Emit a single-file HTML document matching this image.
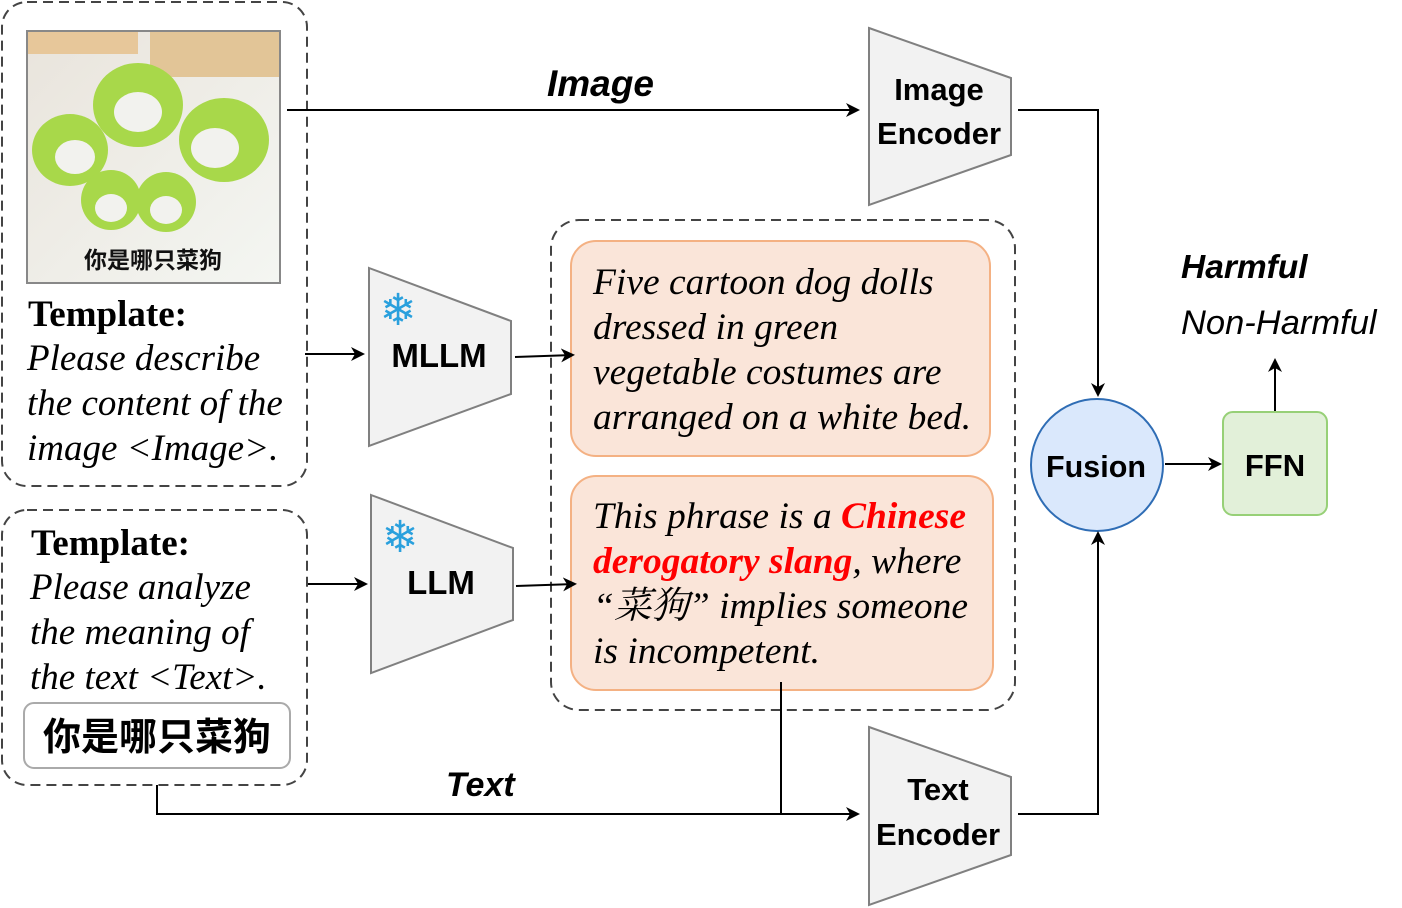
<!DOCTYPE html>
<html><head><meta charset="utf-8"><style>
html,body{margin:0;padding:0;background:#fff;width:1402px;height:908px;overflow:hidden}
svg{display:block}
.sans{font-family:"Liberation Sans","Noto Sans CJK SC",sans-serif}
.serif{font-family:"Liberation Serif","Noto Serif CJK SC",serif}
</style></head><body>
<svg width="1402" height="908" viewBox="0 0 1402 908" xmlns="http://www.w3.org/2000/svg">
<defs>
<marker id="ar" markerWidth="14" markerHeight="14" refX="12" refY="7" orient="auto" markerUnits="userSpaceOnUse"><path d="M0,0 L14,7 L0,14 L4,7 Z" fill="#000"/></marker>
<linearGradient id="bg" x1="0" y1="0" x2="1" y2="1"><stop offset="0" stop-color="#e9e4dc"/><stop offset="1" stop-color="#f4f6f2"/></linearGradient>
</defs>

<rect x="2" y="2" width="305" height="484" rx="25" fill="none" stroke="#444" stroke-width="2" stroke-dasharray="10,6"/>
<g>
<rect x="27" y="31" width="253" height="252" fill="url(#bg)" stroke="#888" stroke-width="2"/>
<rect x="28" y="32" width="110" height="22" fill="#e7c79a"/>
<rect x="150" y="32" width="129" height="45" fill="#e2c597"/>
<ellipse cx="138" cy="105" rx="45" ry="42" fill="#a8d84a"/><ellipse cx="138" cy="112" rx="24" ry="20" fill="#f2f2ee"/>
<ellipse cx="224" cy="140" rx="45" ry="42" fill="#a8d84a"/><ellipse cx="215" cy="148" rx="24" ry="20" fill="#f2f2ee"/>
<ellipse cx="70" cy="150" rx="38" ry="36" fill="#a8d84a"/><ellipse cx="75" cy="157" rx="20" ry="17" fill="#f2f2ee"/>
<ellipse cx="111" cy="200" rx="30" ry="30" fill="#a8d84a"/><ellipse cx="111" cy="208" rx="16" ry="14" fill="#f2f2ee"/>
<ellipse cx="166" cy="202" rx="30" ry="30" fill="#a8d84a"/><ellipse cx="166" cy="210" rx="16" ry="14" fill="#f2f2ee"/>
<text x="153" y="268" text-anchor="middle" class="sans" font-size="23" font-weight="bold" fill="#111">你是哪只菜狗</text>
</g>
<g class="serif" font-size="37" fill="#000">
<text x="28" y="326" font-weight="bold">Template:</text>
<text x="27" y="370" font-style="italic">Please describe</text>
<text x="27" y="415" font-style="italic">the content of the</text>
<text x="27" y="460" font-style="italic">image &lt;Image&gt;.</text>
</g>

<rect x="2" y="510" width="305" height="275" rx="25" fill="none" stroke="#444" stroke-width="2" stroke-dasharray="10,6"/>
<g class="serif" font-size="37" fill="#000">
<text x="31" y="555" font-weight="bold">Template:</text>
<text x="30" y="599" font-style="italic">Please analyze</text>
<text x="30" y="644" font-style="italic">the meaning of</text>
<text x="30" y="689" font-style="italic">the text &lt;Text&gt;.</text>
</g>
<rect x="24" y="703" width="266" height="65" rx="10" fill="#fff" stroke="#aaa" stroke-width="2"/>
<text x="157" y="750" text-anchor="middle" class="sans" font-size="38" font-weight="bold">你是哪只菜狗</text>

<g>
<polygon points="369,268 511,321 511,394 369,446" fill="#f2f2f2" stroke="#808080" stroke-width="2"/>
<text x="398" y="325" text-anchor="middle" font-size="44" fill="#2aa0dd">❄</text>
<text x="439" y="367" text-anchor="middle" class="sans" font-size="33" font-weight="bold">MLLM</text>
</g>
<g>
<polygon points="371,495 513,548 513,620 371,673" fill="#f2f2f2" stroke="#808080" stroke-width="2"/>
<text x="400" y="552" text-anchor="middle" font-size="44" fill="#2aa0dd">❄</text>
<text x="441" y="594" text-anchor="middle" class="sans" font-size="33" font-weight="bold">LLM</text>
</g>

<g>
<polygon points="869,28 1011,78 1011,155 869,205" fill="#f2f2f2" stroke="#808080" stroke-width="2"/>
<text x="939" y="100" text-anchor="middle" class="sans" font-size="31" font-weight="bold">Image</text>
<text x="939" y="144" text-anchor="middle" class="sans" font-size="31" font-weight="bold">Encoder</text>
</g>
<g>
<polygon points="869,727 1011,777 1011,855 869,905" fill="#f2f2f2" stroke="#808080" stroke-width="2"/>
<text x="938" y="800" text-anchor="middle" class="sans" font-size="31" font-weight="bold">Text</text>
<text x="938" y="845" text-anchor="middle" class="sans" font-size="31" font-weight="bold">Encoder</text>
</g>

<rect x="551" y="220" width="464" height="490" rx="28" fill="none" stroke="#444" stroke-width="2" stroke-dasharray="10,6"/>
<rect x="571" y="241" width="419" height="215" rx="25" fill="#fae5d9" stroke="#f4b183" stroke-width="2"/>
<g class="serif" font-size="37.5" font-style="italic">
<text x="593" y="294">Five cartoon dog dolls</text>
<text x="593" y="339">dressed in green</text>
<text x="593" y="384">vegetable costumes are</text>
<text x="593" y="429">arranged on a white bed.</text>
</g>
<rect x="571" y="476" width="422" height="214" rx="25" fill="#fae5d9" stroke="#f4b183" stroke-width="2"/>
<g class="serif" font-size="37.5" font-style="italic">
<text x="593" y="528">This phrase is a <tspan fill="#f00" font-weight="bold">Chinese</tspan></text>
<text x="593" y="573"><tspan fill="#f00" font-weight="bold">derogatory slang</tspan>, where</text>
<text x="593" y="618">“菜狗” implies someone</text>
<text x="593" y="663">is incompetent.</text>
</g>

<g>
<circle cx="1097" cy="465" r="66" fill="#dae8fc" stroke="#2f6db5" stroke-width="2"/>
<text x="1096" y="477" text-anchor="middle" class="sans" font-size="30.5" font-weight="bold">Fusion</text>
</g>
<g>
<rect x="1223" y="412" width="104" height="103" rx="10" fill="#e2f0d9" stroke="#97d077" stroke-width="2"/>
<text x="1275" y="476" text-anchor="middle" class="sans" font-size="31" font-weight="bold">FFN</text>
</g>
<text x="1181" y="278" class="sans" font-size="33.5" font-weight="bold" font-style="italic">Harmful</text>
<text x="1181" y="334" class="sans" font-size="34.5" font-style="italic">Non-Harmful</text>

<g stroke="#000" stroke-width="2" fill="none">
<line x1="287" y1="110" x2="858" y2="110" marker-end="url(#ar)"/>
<polyline points="1018,110 1098,110 1098,395" marker-end="url(#ar)"/>
<line x1="305" y1="354" x2="363" y2="354" marker-end="url(#ar)"/>
<line x1="515" y1="357" x2="573" y2="355" marker-end="url(#ar)"/>
<line x1="308" y1="584" x2="366" y2="584" marker-end="url(#ar)"/>
<line x1="516" y1="586" x2="575" y2="584" marker-end="url(#ar)"/>
<polyline points="157,785 157,814 858,814" marker-end="url(#ar)"/>
<line x1="781" y1="682" x2="781" y2="814"/>
<polyline points="1018,814 1098,814 1098,533" marker-end="url(#ar)"/>
<line x1="1165" y1="464" x2="1220" y2="464" marker-end="url(#ar)"/>
<line x1="1275" y1="411" x2="1275" y2="360" marker-end="url(#ar)"/>
</g>
<text x="547" y="96" class="sans" font-size="37" font-weight="bold" font-style="italic">Image</text>
<text x="446" y="796" class="sans" font-size="34" font-weight="bold" font-style="italic">Text</text>
</svg>
</body></html>
